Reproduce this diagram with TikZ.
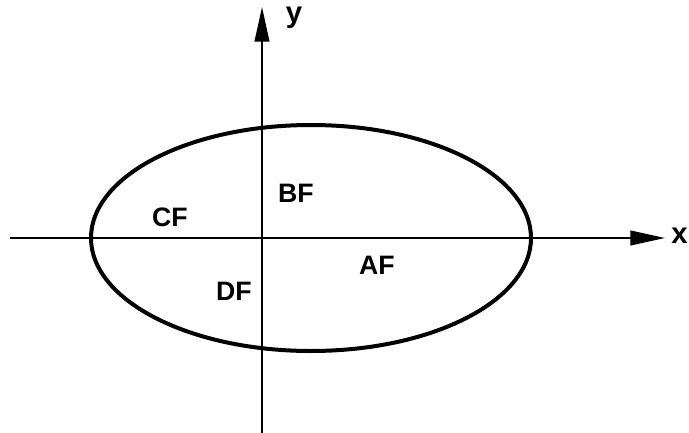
\documentclass[tikz,border=0pt]{standalone}
\usepackage{fontspec}
\setmainfont{Liberation Sans}
\usepackage{tikz}
\usetikzlibrary{arrows.meta}

\begin{document}
\begin{tikzpicture}[
  x=0.75pt, y=-0.75pt,
  axis/.style={line width=1.5pt, -{Triangle[length=26pt, width=11pt]}},
  curve/.style={line width=3pt},
  lbl/.style={font=\fontsize{20}{22}\selectfont\bfseries, inner sep=0pt},
  axl/.style={font=\fontsize{22}{24}\selectfont\bfseries, inner sep=0pt},
]
\useasboundingbox (0,0) rectangle (689,432);

% ============ axes ==========================================================
\coordinate (O)    at (262,238);
\coordinate (xbeg) at (10,238);
\coordinate (xend) at (665,238);
\coordinate (ybeg) at (262,434);
\coordinate (yend) at (262,7);

\draw[curve] (311,238) ellipse [x radius=220, y radius=113];

\draw[axis] (xbeg) -- (xend);
\draw[axis] (ybeg) -- (yend);

\node[axl, anchor=east] (xlab) at (688,236) {x};
\node[axl] (ylab) at (294,18) {y};

% ============ quadrant labels ==============================================
\node[lbl] (af) at (377,265) {AF};
\node[lbl] (bf) at (296,193) {BF};
\node[lbl] (cf) at (170,217) {CF};
\node[lbl] (df) at (234,291) {DF};

\end{tikzpicture}
\end{document}
